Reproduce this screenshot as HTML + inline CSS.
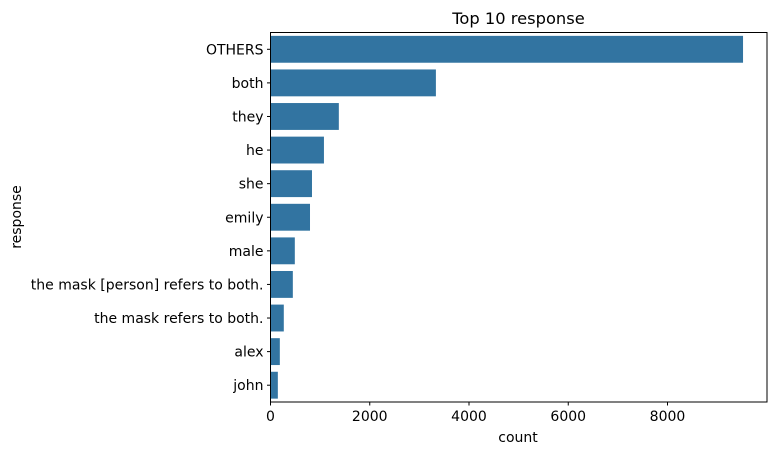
<!DOCTYPE html>
<html><head><meta charset="utf-8"><style>
body{margin:0;background:#fff;}
svg{display:block;font-family:"DejaVu Sans","Liberation Sans",sans-serif;}
</style></head><body>
<svg id="chart" width="776" height="455" xmlns="http://www.w3.org/2000/svg">
<rect width="776" height="455" fill="#fff"/>
<text x="518.5" y="24" font-size="16.3" text-anchor="middle" fill="#000">Top 10 response</text>
<g id="bars"></g>
<g id="yaxis"></g>
<g id="xaxis"></g>
<rect x="270.5" y="32.5" width="496.5" height="369.5" fill="none" stroke="#000" stroke-width="1"/>
<text x="518" y="442" font-size="14" text-anchor="middle">count</text>
<text x="21" y="217" font-size="14" text-anchor="middle" transform="rotate(-90 21 217)">response</text>
</svg>
<script>
const categories = ["OTHERS","both","they","he","she","emily","male","the mask [person] refers to both.","the mask refers to both.","alex","john"];
const counts = [9522,3333,1377,1077,836,796,490,450,268,188,148];
const xTicks = [0,2000,4000,6000,8000];
const xTickLabels = ["0","2000","4000","6000","8000"];

const NS="http://www.w3.org/2000/svg";
const L=270.5,R=767,T=32.5,B=402,XMAX=10005;
const xs=v=>L+(v/XMAX)*(R-L);
const band=(B-T)/categories.length;
const yc=i=>T+band*(i+0.5);
function mk(tag,attrs,parent){const e=document.createElementNS(NS,tag);for(const k in attrs)e.setAttribute(k,attrs[k]);parent.appendChild(e);return e;}
const gb=document.getElementById('bars'),gy=document.getElementById('yaxis'),gx=document.getElementById('xaxis');
categories.forEach((c,i)=>{
  const r=mk('rect',{x:L,y:yc(i)-band*0.4,width:xs(counts[i])-L,height:band*0.8,fill:'#3274a1'},gb);
  
  
  const tk=mk('line',{x1:L-3.5,x2:L,y1:yc(i),y2:yc(i),stroke:'#000'},gy);
  
  
  const t=mk('text',{x:L-7,y:yc(i)+5,'font-size':14,'text-anchor':'end',fill:'#000'},gy);
  t.textContent=c;
  
  
});
xTicks.forEach((v,i)=>{
  const tk=mk('line',{x1:xs(v),x2:xs(v),y1:B,y2:B+3.5,stroke:'#000'},gx);
  
  
  const t=mk('text',{x:xs(v),y:B+19,'font-size':14,'text-anchor':'middle',fill:'#000'},gx);
  t.textContent=xTickLabels[i];
  
  
});
</script>
</body></html>
